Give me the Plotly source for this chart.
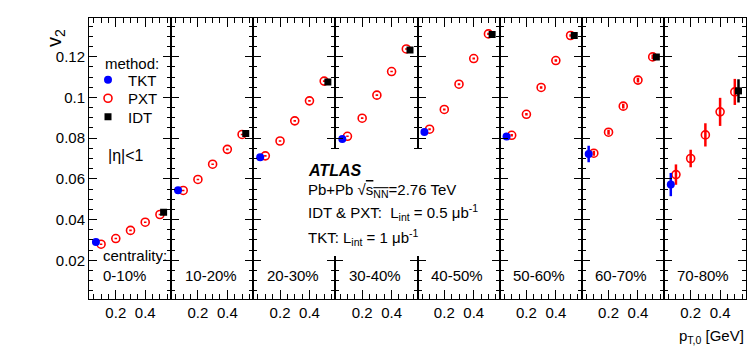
import plotly.graph_objects as go
from plotly.subplots import make_subplots

# centrality bins, one panel each
centralities = ["0-10%", "10-20%", "20-30%", "30-40%", "40-50%", "50-60%", "60-70%", "70-80%"]

# pT,0 positions of the three methods (GeV)
tkt_pt = [0.065]
pxt_pt = [0.1, 0.2, 0.3, 0.4, 0.5]
idt_pt = [0.525]

# v2
tkt_v2 = [0.0290, 0.0544, 0.0706, 0.0796, 0.0830, 0.0808, 0.0722, 0.0572]
tkt_err = [0.0005, 0.0005, 0.0005, 0.0006, 0.0006, 0.0008, 0.0041, 0.0057]

pxt_v2 = [
    [0.0279, 0.0307, 0.0347, 0.0387, 0.0425],
    [0.0543, 0.0597, 0.0672, 0.0745, 0.0818],
    [0.0713, 0.0786, 0.0885, 0.0983, 0.1080],
    [0.0809, 0.0898, 0.1011, 0.1127, 0.1238],
    [0.0844, 0.0941, 0.1065, 0.1191, 0.1312],
    [0.0814, 0.0917, 0.1049, 0.1181, 0.1304],
    [0.0726, 0.0829, 0.0957, 0.1085, 0.1199],
    [0.0621, 0.0700, 0.0816, 0.0929, 0.1027],
]
pxt_err = [
    [0.0004, 0.0004, 0.0004, 0.0004, 0.0004],
    [0.0004, 0.0004, 0.0004, 0.0004, 0.0004],
    [0.0004, 0.0004, 0.0004, 0.0004, 0.0004],
    [0.0004, 0.0004, 0.0004, 0.0004, 0.0004],
    [0.0005, 0.0005, 0.0005, 0.0005, 0.0005],
    [0.0006, 0.0006, 0.0006, 0.0006, 0.0006],
    [0.0012, 0.0012, 0.0012, 0.0012, 0.0012],
    [0.0050, 0.0043, 0.0057, 0.0069, 0.0064],
]

idt_v2 = [0.0436, 0.0823, 0.1076, 0.1233, 0.1309, 0.1304, 0.1199, 0.1032]
idt_err = [0.0005, 0.0005, 0.0005, 0.0005, 0.0006, 0.0007, 0.0012, 0.0057]

W, H = 747, 356
L, R, T, B = 89, 1, 18, 57
FONT = "Liberation Sans, Arial, sans-serif"


def px(x):
    return (x - L) / (W - L - R)


def py(y):
    return (H - B - y) / (H - T - B)


def label(x, y, text, size=15, anchor="left", **kw):
    return dict(x=px(x), y=py(y), xref="paper", yref="paper", text=text,
                xanchor=anchor, yanchor="middle", showarrow=False,
                font=dict(size=size, family=FONT, color="black"), **kw)


fig = make_subplots(rows=1, cols=8, shared_yaxes=True, horizontal_spacing=0)

for i in range(8):
    col = i + 1
    first = i == 0
    fig.add_trace(go.Scatter(
        x=pxt_pt, y=pxt_v2[i], mode="markers", name="PXT", legend="legend2",
        showlegend=first,
        marker=dict(symbol="circle-open", size=8, color="red", line=dict(width=1.6, color="red")),
        error_y=dict(type="data", array=pxt_err[i], width=0, thickness=2.5, color="red"),
    ), row=1, col=col)
    fig.add_trace(go.Scatter(
        x=tkt_pt, y=[tkt_v2[i]], mode="markers", name="TKT", legend="legend",
        showlegend=first,
        marker=dict(symbol="circle", size=8, color="blue"),
        error_y=dict(type="data", array=[tkt_err[i]], width=0, thickness=2.5, color="blue"),
    ), row=1, col=col)
    fig.add_trace(go.Scatter(
        x=idt_pt, y=[idt_v2[i]], mode="markers", name="IDT", legend="legend3",
        showlegend=first,
        marker=dict(symbol="square", size=7, color="black"),
        error_y=dict(type="data", array=[idt_err[i]], width=0, thickness=2.5, color="black"),
    ), row=1, col=col)

fig.update_xaxes(
    range=[0.018, 0.576], tickvals=[0.2, 0.4], ticktext=["0.2", "0.4"],
    ticks="inside", ticklen=9, tickwidth=1, tickcolor="black",
    showline=True, linecolor="black", linewidth=1, mirror="allticks",
    minor=dict(dtick=0.05, tick0=0, ticks="inside", ticklen=5, tickcolor="black"),
    showgrid=False, zeroline=False, tickfont=dict(size=15, color="black"),
    automargin=False,
)
fig.update_yaxes(
    range=[0.001, 0.139], dtick=0.02, tick0=0,
    ticks="inside", ticklen=8, tickwidth=1, tickcolor="black",
    showline=True, linecolor="black", linewidth=1, mirror="allticks",
    minor=dict(dtick=0.005, tick0=0, ticks="inside", ticklen=4, tickcolor="black"),
    showgrid=False, zeroline=False, tickfont=dict(size=15, color="black"),
    automargin=False,
)

ann = []
# panel labels
for i, c in enumerate(centralities):
    x0 = L + i * (W - L - R) / 8 + 11.5
    ann.append(label(x0, 275.5, c))
ann.append(label(100.5, 256, "centrality:"))
ann.append(label(102.5, 63, "method:"))
ann.append(label(106, 155, "|η|<1", size=16))
# ATLAS block
ann.append(label(306, 170, "<b><i>ATLAS</i></b>", size=16))
ann.append(label(306, 190, "Pb+Pb √<span style='text-decoration:overline'>s<sub>NN</sub></span>=2.76 TeV"))
ann.append(label(306, 212, "IDT & PXT:  L<sub>int</sub> = 0.5 μb<sup>-1</sup>"))
ann.append(label(306, 237, "TKT: L<sub>int</sub> = 1 μb<sup>-1</sup>"))
# axis titles
ann.append(label(55, 38, "v<sub>2</sub>", size=20, anchor="center", textangle=-90))
ann.append(label(746, 336, "p<sub>T,0</sub> [GeV]", anchor="right"))

# white box behind the ATLAS text, hides the panel borders there
fig.add_shape(type="rect", xref="paper", yref="paper", layer="above",
              x0=px(300), x1=px(494), y0=py(256), y1=py(149),
              fillcolor="white", line=dict(width=0))

leg = dict(x=px(88), xanchor="left", yanchor="middle", bgcolor="rgba(0,0,0,0)",
           font=dict(size=15), itemwidth=30)
fig.update_layout(
    width=W, height=H,
    margin=dict(l=L, r=R, t=T, b=B, autoexpand=False),
    paper_bgcolor="white", plot_bgcolor="white",
    font=dict(family=FONT, color="black"),
    annotations=ann,
    legend=dict(leg, y=py(80)),
    legend2=dict(leg, y=py(98.5)),
    legend3=dict(leg, y=py(117)),
)

# drop the page's default body margin so the figure sits at the window's corner
fig.write_html(
    "out.html",
    config={"displayModeBar": False},
    post_script="document.body.style.margin='0';document.documentElement.style.overflow='hidden';",
)
